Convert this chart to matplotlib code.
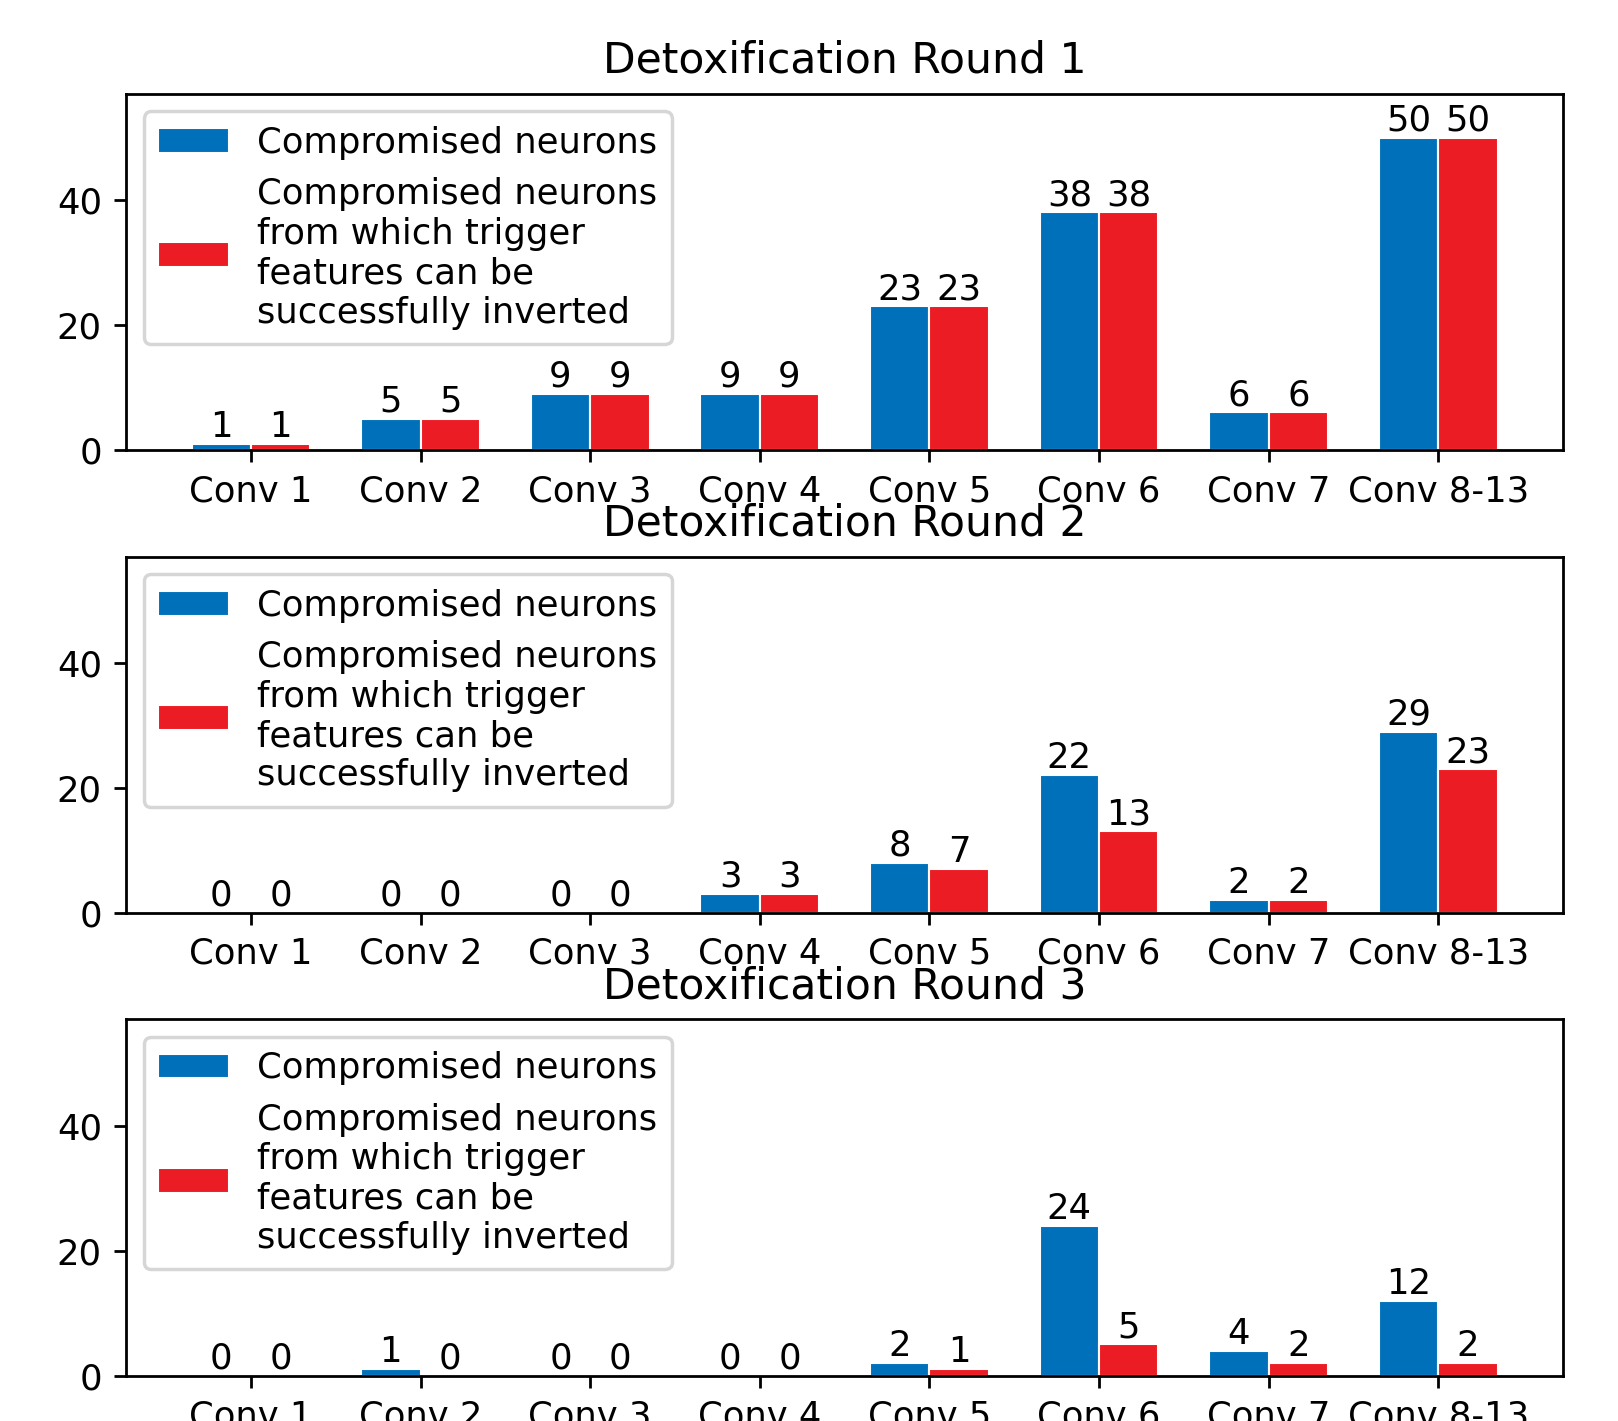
import matplotlib
matplotlib.use("Agg")
import matplotlib.pyplot as plt
import numpy as np

# ========== 数据 ==========
layers = ["Conv 1", "Conv 2", "Conv 3", "Conv 4", "Conv 5", "Conv 6", "Conv 7", "Conv 8-13"]

round1_compromised = [1, 5, 9, 9, 23, 38, 6, 50]
round1_inverted = [1, 5, 9, 9, 23, 38, 6, 50]

round2_compromised = [0, 0, 0, 3, 8, 22, 2, 29]
round2_inverted = [0, 0, 0, 3, 7, 13, 2, 23]

round3_compromised = [0, 1, 0, 0, 2, 24, 4, 12]
round3_inverted = [0, 0, 0, 0, 1, 5, 2, 2]

titles = ["Detoxification Round 1", "Detoxification Round 2", "Detoxification Round 3"]
label_blue = "Compromised neurons"
label_red = "Compromised neurons\nfrom which trigger\nfeatures can be\nsuccessfully inverted"

# ========== 样式 ==========
BLUE = "#0070BA"
RED = "#EC1C24"
WIDTH = 0.35
plt.rcParams["font.size"] = 10.2

fig, axes = plt.subplots(3, 1, figsize=(1618 / 250, 1421 / 250), dpi=250)
plt.subplots_adjust(left=0.078, right=0.966, top=0.934, bottom=0.032, hspace=0.30)

rounds = [
    (round1_compromised, round1_inverted),
    (round2_compromised, round2_inverted),
    (round3_compromised, round3_inverted),
]

x = np.arange(len(layers))
for ax, title, (comp, inv) in zip(axes, titles, rounds):
    b1 = ax.bar(x - WIDTH / 2, comp, WIDTH, color=BLUE, edgecolor="white", linewidth=0.6, label=label_blue)
    b2 = ax.bar(x + WIDTH / 2, inv, WIDTH, color=RED, edgecolor="white", linewidth=0.6, label=label_red)
    ax.bar_label(b1)
    ax.bar_label(b2)
    ax.set_xticks(x)
    ax.set_xticklabels(layers)
    ax.set_ylim(0, 57)
    ax.set_yticks([0, 20, 40])
    ax.set_title(title)
    ax.legend(loc="upper left")

fig.savefig("out.png", dpi=250)
